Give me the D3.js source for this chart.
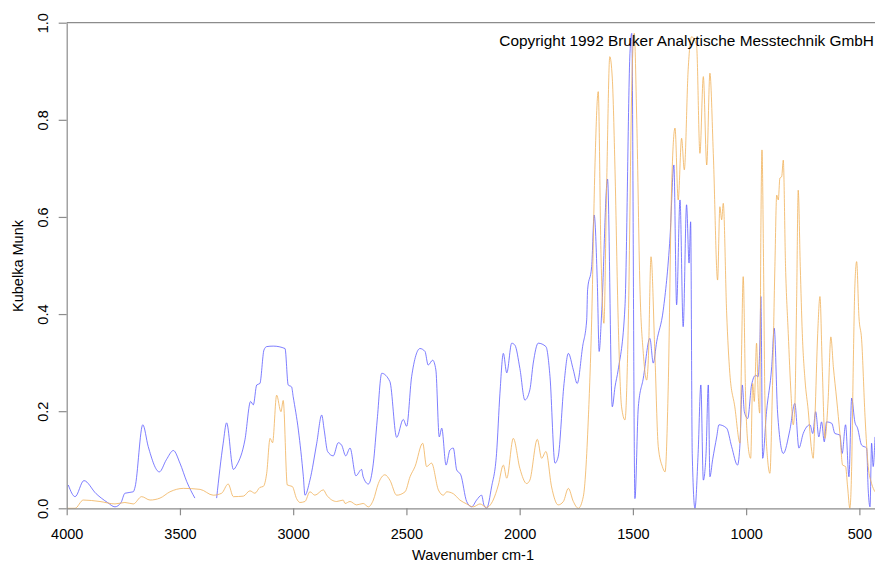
<!DOCTYPE html>
<html>
<head>
<meta charset="utf-8">
<script src="https://cdn.jsdelivr.net/npm/d3@7"></script>
<style>
  html, body { margin: 0; padding: 0; background: #fff; }
  svg { display: block; font-family: "Liberation Sans", Arial, Helvetica, sans-serif; }
</style>
</head>
<body>
<svg id="chart" width="875" height="564"></svg>
<script>
// Diffuse-reflectance IR spectra (Kubelka-Munk units) vs wavenumber.
// Series A (blue): wavenumber (cm-1) and K-M value; null marks a gap in the record.
const blueWn = [3993, 3963, 3924, 3870, 3820, 3787, 3760, 3743, 3706, 3698, 3664, 3640, 3591, 3560, 3529, 3500, 3470, 3434,
  3400,
  3338, 3309, 3294, 3264, 3249, 3213, 3188, 3176, 3161, 3147, 3129, 3117, 3088, 3036, 3022, 3007, 3000, 2977, 2955, 2948,
  2926, 2896, 2874, 2863, 2848, 2823, 2801, 2786, 2768, 2749, 2723, 2698, 2691, 2668, 2646, 2629, 2609, 2573, 2543, 2514,
  2499, 2477, 2440, 2418, 2404, 2384, 2370, 2355, 2344, 2325, 2308, 2293, 2278, 2260, 2234, 2212, 2190, 2168, 2158, 2146,
  2124, 2102, 2087, 2072, 2057, 2035, 2021, 1999, 1977, 1955, 1940, 1918, 1884, 1866, 1844, 1830, 1804, 1785, 1763, 1746,
  1722, 1704, 1700, 1682, 1671, 1657, 1649, 1638, 1612, 1591, 1579, 1565, 1535, 1513, 1505, 1491, 1476, 1454, 1425, 1410,
  1395, 1366, 1336, 1319, 1307, 1292, 1278, 1263, 1252, 1245, 1238, 1226, 1212, 1200, 1189, 1177, 1167, 1160, 1148, 1130,
  1120, 1086, 1064, 1038, 1027, 1017, 1008, 993, 976, 958, 947, 939, 935, 927, 910, 887, 876, 861, 836, 807, 785, 767, 748,
  718, 706, 693, 679, 667, 655, 645, 622, 608, 586, 576, 561, 546, 534, 520, 508, 490, 468, 461, 453, 446, 439, 431];
const blueKM = [0.048, 0.024, 0.057, 0.030, 0.012, 0.003, 0.012, 0.031, 0.034, 0.044, 0.172, 0.127, 0.075, 0.100, 0.119, 0.093, 0.055, 0.021,
  null,
  0.021, 0.134, 0.176, 0.080, 0.089, 0.141, 0.220, 0.213, 0.254, 0.257, 0.326, 0.333, 0.334, 0.329, 0.254, 0.250, 0.230, 0.161, 0.065, 0.027,
  0.058, 0.134, 0.192, 0.161, 0.117, 0.108, 0.135, 0.130, 0.108, 0.124, 0.067, 0.080, 0.065, 0.050, 0.093, 0.182, 0.278, 0.261, 0.146, 0.183,
  0.169, 0.271, 0.329, 0.323, 0.295, 0.305, 0.285, 0.147, 0.165, 0.089, 0.120, 0.124, 0.079, 0.069, 0.014, 0.003, 0.017, 0.027, 0.007, 0.000,
  0.044, 0.113, 0.237, 0.319, 0.279, 0.340, 0.336, 0.288, 0.223, 0.244, 0.299, 0.340, 0.333, 0.271, 0.093, 0.106, 0.257, 0.319, 0.285, 0.257,
  0.333, 0.388, 0.450, 0.498, 0.604, 0.463, 0.323, 0.402, 0.678, 0.209, 0.250, 0.285, 0.415, 0.937, 0.978, 0.020, 0.209, 0.268, 0.350, 0.299,
  0.343, 0.408, 0.559, 0.707, 0.419, 0.635, 0.374, 0.625, 0.505, 0.590, 0.113, 0.000, 0.113, 0.254, 0.058, 0.113, 0.254, 0.065, 0.100, 0.147,
  0.172, 0.165, 0.127, 0.089, 0.134, 0.254, 0.199, 0.185, 0.254, 0.274, 0.271, 0.347, 0.436, 0.103, 0.199, 0.292, 0.371, 0.196, 0.113, 0.161, 0.216, 0.124, 0.154,
  0.172, 0.154, 0.199, 0.147, 0.178, 0.137, 0.178, 0.175, 0.154, 0.151, 0.113, 0.172, 0.065, 0.227, 0.178, 0.165, 0.130, 0.124, 0.038, 0.003, 0.134, 0.086, 0.147];

// Series B (orange): wavenumber (cm-1) and K-M value.
const orangeWn = [4000, 3963, 3927, 3853, 3787, 3743, 3706, 3669, 3632, 3588, 3544, 3485, 3411, 3353, 3316, 3287, 3264, 3220,
  3191, 3169, 3147, 3132, 3117, 3102, 3091, 3073, 3054, 3044, 3026, 3004, 2985, 2970, 2948, 2926, 2904, 2867, 2852, 2808,
  2779, 2771, 2749, 2720, 2691, 2668, 2646, 2624, 2595, 2573, 2543, 2506, 2484, 2462, 2428, 2411, 2389, 2359, 2337, 2322,
  2293, 2264, 2234, 2205, 2175, 2146, 2117, 2094, 2072, 2057, 2028, 1999, 1969, 1955, 1922, 1903, 1884, 1859, 1830, 1807,
  1785, 1763, 1741, 1719, 1697, 1682, 1668, 1653, 1641, 1628, 1616, 1602, 1591, 1579, 1565, 1550, 1535, 1520, 1505, 1494,
  1483, 1469, 1454, 1439, 1432, 1420, 1403, 1388, 1370, 1358, 1344, 1329, 1314, 1300, 1285, 1273, 1256, 1241, 1219,
  1204, 1189, 1174, 1160, 1145, 1126, 1116, 1108, 1101, 1086, 1072, 1050, 1027, 1020, 1013, 1002, 991, 980, 971, 964, 954,
  947, 940, 935, 930, 923, 917, 905, 895, 885, 873, 865, 858, 851, 843, 836, 826, 814, 802, 792, 785, 777, 770, 761, 752,
  740, 726, 711, 704, 696, 684, 674, 664, 652, 638, 626, 615, 600, 586, 574, 561, 552, 542, 534, 527, 520, 512, 502, 490,
  475, 461, 446, 431];
const orangeKM = [0.000, 0.000, 0.017, 0.014, 0.009, 0.012, 0.009, 0.024, 0.017, 0.021, 0.034, 0.041, 0.039, 0.027, 0.031, 0.050, 0.024, 0.025,
  0.036, 0.031, 0.043, 0.045, 0.072, 0.144, 0.135, 0.233, 0.199, 0.222, 0.048, 0.045, 0.020, 0.012, 0.014, 0.034, 0.027, 0.038, 0.027, 0.014,
  0.017, 0.010, 0.014, 0.007, 0.010, 0.003, 0.017, 0.051, 0.069, 0.058, 0.027, 0.034, 0.065, 0.086, 0.134, 0.086, 0.093, 0.038, 0.027, 0.034,
  0.030, 0.017, 0.009, 0.003, 0.009, 0.002, 0.017, 0.048, 0.089, 0.062, 0.144, 0.082, 0.051, 0.058, 0.142, 0.103, 0.117, 0.044, 0.007, 0.014,
  0.041, 0.014, 0.000, 0.024, 0.182, 0.388, 0.697, 0.858, 0.525, 0.381, 0.662, 0.930, 0.886, 0.697, 0.388, 0.209, 0.182, 0.388, 0.868, 0.978,
  0.800, 0.456, 0.319, 0.264, 0.305, 0.518, 0.319, 0.127, 0.086, 0.075, 0.250, 0.662, 0.783, 0.635, 0.762, 0.697, 0.903, 0.971, 0.954,
  0.731, 0.889, 0.707, 0.896, 0.731, 0.470, 0.621, 0.594, 0.628, 0.402, 0.278, 0.209, 0.134, 0.326, 0.477, 0.223, 0.127, 0.103, 0.257, 0.220, 0.340,
  0.237, 0.196, 0.566, 0.738, 0.498, 0.223, 0.100, 0.072, 0.223, 0.498, 0.645, 0.635, 0.680, 0.683, 0.717, 0.498, 0.360, 0.237, 0.172, 0.209, 0.429, 0.655, 0.498, 0.360,
  0.264, 0.202, 0.120, 0.103, 0.189, 0.360, 0.436, 0.292, 0.144, 0.223, 0.353, 0.292, 0.223, 0.154, 0.089, 0.086, 0.044, 0.000, 0.086, 0.292, 0.456, 0.508, 0.395, 0.347,
  0.189, 0.086, 0.051, 0.034];

const xTicks = [4000, 3500, 3000, 2500, 2000, 1500, 1000, 500];
const yTicks = [0.0, 0.2, 0.4, 0.6, 0.8, 1.0];

const W = 875, H = 564;
const margin = { left: 66.7, right: 0, top: 22.7, bottom: 55.7 };
const plotW = W - margin.left - margin.right;
const plotH = H - margin.top - margin.bottom;

const svg = d3.select("#chart");
const axisGrey = "#8c8c8c";

const x = d3.scaleLinear().domain([4000, 431]).range([0, plotW]);
const y = d3.scaleLinear().domain([0, 1]).range([plotH, 0]);

const g = svg.append("g").attr("transform", `translate(${margin.left},${margin.top})`);

g.append("clipPath").attr("id", "plot-clip")
  .append("rect").attr("x", 0).attr("y", -1).attr("width", plotW).attr("height", plotH + 2);

// top frame line
g.append("line")
  .attr("x1", 0).attr("x2", plotW).attr("y1", 0).attr("y2", 0)
  .attr("stroke", axisGrey).attr("stroke-width", 1.2);

// spectra
const line = d3.line()
  .defined(d => d[1] !== null)
  .x(d => x(d[0]))
  .y(d => y(d[1]))
  .curve(d3.curveMonotoneX);

const blue = blueWn.map((w, i) => [w, blueKM[i]]);
const orange = orangeWn.map((w, i) => [w, orangeKM[i]]);

const plot = g.append("g").attr("clip-path", "url(#plot-clip)");
plot.append("path").datum(blue)
  .attr("fill", "none").attr("stroke", "#5e5eff").attr("stroke-opacity", 0.8)
  .attr("stroke-width", 1).attr("d", line);
plot.append("path").datum(orange)
  .attr("fill", "none").attr("stroke", "#f0b25a").attr("stroke-opacity", 0.8)
  .attr("stroke-width", 1).attr("d", line);

// x axis
const xAxis = g.append("g").attr("transform", `translate(0,${plotH})`)
  .call(d3.axisBottom(x).tickValues(xTicks).tickFormat(d3.format("d")).tickSize(7).tickSizeOuter(0));
xAxis.select(".domain").attr("stroke", axisGrey).attr("stroke-width", 1.2);
xAxis.selectAll(".tick line").attr("stroke", axisGrey).attr("stroke-width", 1.2);
xAxis.selectAll(".tick text")
  .attr("y", 30.7).attr("dy", 0)
  .attr("fill", "#000").style("font-size", "14.5px").style("font-family", "'Liberation Sans', Arial, sans-serif");

// y axis with rotated labels
const yAxis = g.append("g")
  .call(d3.axisLeft(y).tickValues(yTicks).tickFormat(d3.format(".1f")).tickSize(8).tickSizeOuter(0));
yAxis.select(".domain").attr("stroke", axisGrey).attr("stroke-width", 1.2);
yAxis.selectAll(".tick line").attr("stroke", axisGrey).attr("stroke-width", 1.2);
yAxis.selectAll(".tick text")
  .attr("x", 0).attr("y", -19).attr("dy", 0)
  .attr("transform", "rotate(-90)")
  .attr("text-anchor", "middle")
  .attr("fill", "#000").style("font-size", "14.5px").style("font-family", "'Liberation Sans', Arial, sans-serif");

// axis titles
svg.append("text")
  .attr("x", 473).attr("y", 560)
  .attr("text-anchor", "middle")
  .style("font-size", "14.5px")
  .text("Wavenumber cm-1");

svg.append("text")
  .attr("transform", "translate(23,266) rotate(-90)")
  .attr("text-anchor", "middle")
  .style("font-size", "14.5px")
  .text("Kubelka Munk");

// copyright note
svg.append("text")
  .attr("x", 874).attr("y", 46)
  .attr("text-anchor", "end")
  .style("font-size", "15.4px")
  .text("Copyright 1992 Bruker Analytische Messtechnik GmbH");
</script>
</body>
</html>
